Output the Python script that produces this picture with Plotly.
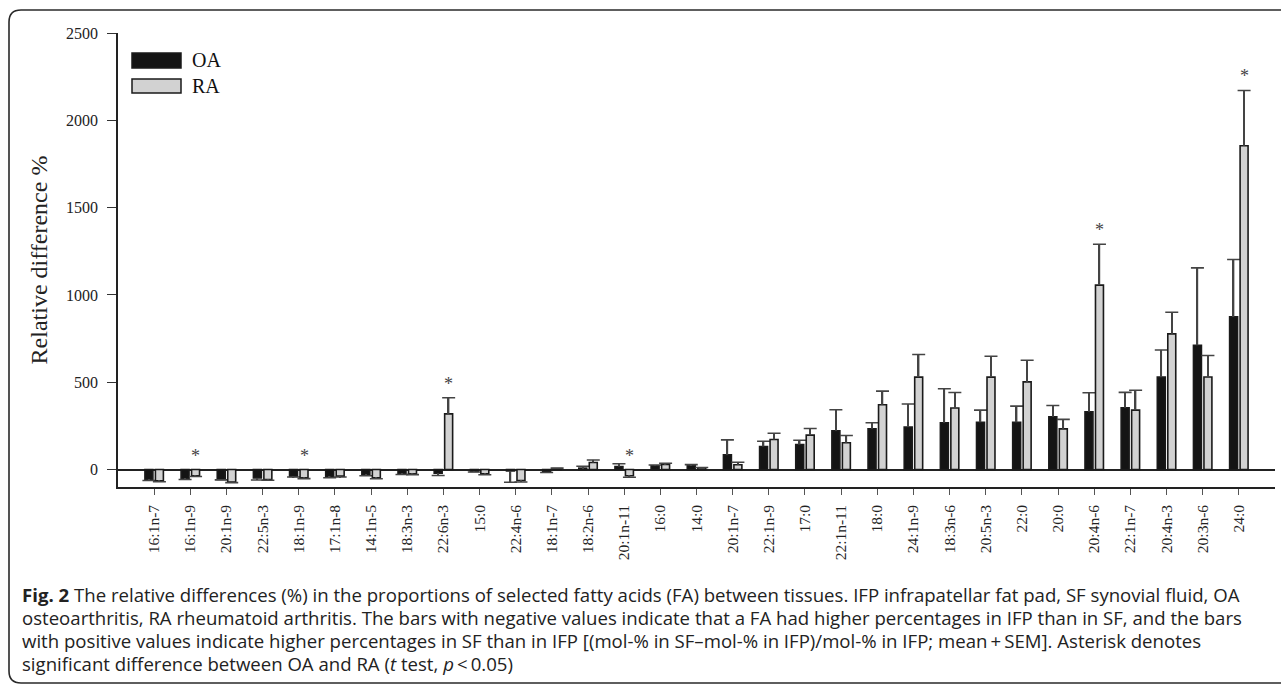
import plotly.graph_objects as go

# ---------------- data ----------------
categories = ["16:1n-7", "16:1n-9", "20:1n-9", "22:5n-3", "18:1n-9", "17:1n-8", "14:1n-5",
              "18:3n-3", "22:6n-3", "15:0", "22:4n-6", "18:1n-7", "18:2n-6", "20:1n-11",
              "16:0", "14:0", "20:1n-7", "22:1n-9", "17:0", "22:1n-11", "18:0", "24:1n-9",
              "18:3n-6", "20:5n-3", "22:0", "20:0", "20:4n-6", "22:1n-7", "20:4n-3",
              "20:3n-6", "24:0"]

oa_mean = [-58, -54, -57, -48, -40, -40, -29, -25, -21, -11, -8, -15, 8, 17, 21, 25,
           84, 132, 143, 222, 233, 243, 268, 271, 271, 302, 331, 354, 529, 712, 874]
oa_sem = [5, 3, 2, 12, 3, 7, 7, 3, 13, 3, 65, 2, 11, 16, 5, 3,
          86, 30, 25, 120, 35, 132, 195, 69, 92, 65, 109, 88, 156, 443, 329]

ra_mean = [-65, -36, -72, -57, -48, -38, -48, -25, 319, -25, -63, 5, 40, -36, 29, 10,
           27, 172, 197, 153, 371, 529, 352, 529, 502, 233, 1056, 340, 777, 530, 1854]
ra_sem = [5, 4, 3, 4, 4, 5, 5, 4, 92, 5, 8, 3, 15, 8, 7, 2,
          15, 36, 38, 42, 78, 130, 89, 120, 124, 54, 234, 114, 124, 123, 317]

significant = ["16:1n-9", "18:1n-9", "22:6n-3", "20:1n-11", "20:4n-6", "24:0"]

series_names = ["OA", "RA"]
y_ticks = [0, 500, 1000, 1500, 2000, 2500]

caption_lines = [
    "<b>Fig. 2</b> The relative differences (%) in the proportions of selected fatty acids (FA) between tissues. IFP infrapatellar fat pad, SF synovial fluid, OA",
    "osteoarthritis, RA rheumatoid arthritis. The bars with negative values indicate that a FA had higher percentages in IFP than in SF, and the bars",
    "with positive values indicate higher percentages in SF than in IFP [(mol-% in SF\u2013mol-% in IFP)/mol-% in IFP; mean\u2009+\u2009SEM]. Asterisk denotes",
    "significant difference between OA and RA (<i>t</i> test, <i>p</i>\u2009<\u20090.05)",
]

# ---------------- layout constants ----------------
W, H = 1281, 685
ML, MR, MT, MB = 118, 6, 33, 198
PW, PH = W - ML - MR, H - MT - MB
BARGAP, GROUPGAP = 0.42, 0.24
X_RANGE = [-1, len(categories)]
SERIF = "Liberation Serif, Times New Roman, serif"
SANS = "Open Sans, Noto Sans, sans-serif"
ERR_COL = "#444444"
fills = {"OA": "#141414", "RA": "#d2d2d2"}


def px2x(px):
    return (px - ML) / PW


def py2y(py):
    return (H - MB - py) / PH


fig = go.Figure()

data = {"OA": (oa_mean, oa_sem), "RA": (ra_mean, ra_sem)}
px_per_cat = PW / (X_RANGE[1] - X_RANGE[0])

for name in series_names:
    mean, sem = data[name]
    fig.add_trace(go.Bar(
        x=categories, y=mean, name=name, offsetgroup=name,
        marker=dict(color=fills[name], line=dict(color="#1a1a1a", width=1.6)),
        showlegend=False,
    ))
    # error bars (one-sided, away from zero): thin bar from the mean + a cap
    err_len = [s if m >= 0 else -s for m, s in zip(mean, sem)]
    fig.add_trace(go.Bar(
        x=categories, y=err_len, base=mean, offsetgroup=name,
        width=1.5 / px_per_cat,
        marker=dict(color=ERR_COL, line=dict(width=0)),
        error_y=dict(type="data", array=[0] * len(mean), visible=True,
                     color=ERR_COL, thickness=1.6, width=6.5),
        showlegend=False, hoverinfo="skip",
    ))

# asterisks over the RA bars
slot_shift = (1 - BARGAP) / 4 * px_per_cat
for cat in significant:
    i = categories.index(cat)
    top = max(0, ra_mean[i] + ra_sem[i])
    fig.add_annotation(x=cat, y=top, xref="x", yref="y", text="*", showarrow=False,
                       xshift=slot_shift, yshift=14, yanchor="middle",
                       font=dict(family=SERIF, size=18, color="#444444"))

# legend drawn as swatches + labels
legend_items = [("OA", 53, 68), ("RA", 79, 93)]
for name, y0, y1 in legend_items:
    fig.add_shape(type="rect", xref="paper", yref="paper",
                  x0=px2x(132), x1=px2x(181), y0=py2y(y1), y1=py2y(y0),
                  fillcolor=fills[name], line=dict(color="#1a1a1a", width=1.5))
    fig.add_annotation(xref="paper", yref="paper", x=px2x(190), y=py2y((y0 + y1) / 2),
                       text=name, showarrow=False, xanchor="left", yanchor="middle",
                       font=dict(family=SERIF, size=20, color="#111111"))

# caption
cap_y = [594, 617, 640, 663]
for txt, cy in zip(caption_lines, cap_y):
    fig.add_annotation(xref="paper", yref="paper", x=px2x(20), y=py2y(cy), text=txt,
                       showarrow=False, xanchor="left", yanchor="middle",
                       font=dict(family=SANS, size=18.6, color="#222222"))

# outer frame with rounded corners
lx, ty, by, rx = px2x(9), py2y(10), py2y(683), px2x(1290)
rx_r, ry_r = 12 / PW, 12 / PH
frame = (f"M {rx},{ty} L {lx + rx_r},{ty} Q {lx},{ty} {lx},{ty - ry_r} "
         f"L {lx},{by + ry_r} Q {lx},{by} {lx + rx_r},{by} L {rx},{by}")
fig.add_shape(type="path", xref="paper", yref="paper", path=frame,
              line=dict(color="#2a2a2a", width=1.6))

fig.update_layout(
    width=W, height=H,
    margin=dict(l=ML, r=MR, t=MT, b=MB, autoexpand=False),
    paper_bgcolor="white", plot_bgcolor="white",
    barmode="group", bargap=BARGAP, bargroupgap=GROUPGAP,
    showlegend=False,
    font=dict(family=SERIF, color="#222222"),
)
fig.update_xaxes(
    type="category", categoryorder="array", categoryarray=categories,
    range=X_RANGE, showline=True, linecolor="#222222", linewidth=1.5,
    ticks="outside", ticklen=6, tickwidth=1.3, tickcolor="#555555",
    tickangle=-90, tickfont=dict(family=SERIF, size=15.5, color="#222222"),
    ticklabelstandoff=4, showgrid=False, zeroline=False,
)
fig.update_yaxes(
    range=[-100, 2500], tickvals=y_ticks, ticks="outside", ticklen=9, tickwidth=1.3,
    tickcolor="#333333", showline=True, linecolor="#222222", linewidth=1.5,
    tickfont=dict(family=SERIF, size=16, color="#222222"), ticklabelstandoff=6,
    showgrid=False, zeroline=True, zerolinecolor="#222222", zerolinewidth=1.5,
    title=dict(text="Relative difference %", font=dict(family=SERIF, size=24, color="#222222"),
               standoff=12),
)

fig.write_html("out.html", config={"displayModeBar": False},
               post_script="document.body.style.margin='0';document.body.style.overflow='hidden';")
